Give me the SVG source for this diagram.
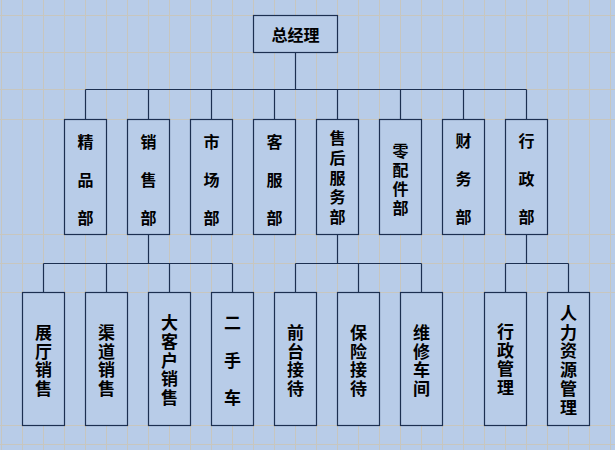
<svg xmlns="http://www.w3.org/2000/svg" width="615" height="450" viewBox="0 0 615 450">
<style>
.grid line{stroke:#C7C6BF;stroke-width:1}
.box{fill:#B8CCE8;stroke:#1C2F50;stroke-width:1.2}
.conn line,.conn path{stroke:#1C2F50;stroke-width:1.2;fill:none}
text{font-family:"Noto Sans CJK SC","Noto Sans CJK JP",sans-serif;font-weight:bold;fill:#000;text-anchor:middle;dominant-baseline:central}
.t2{font-size:16px}
.t3{font-size:17px}
</style>
<rect x="0" y="0" width="615" height="450" fill="#B8CCE8"/>
<g class="grid">
<line x1="0" y1="15.5" x2="615" y2="15.5"/>
<line x1="0" y1="52.5" x2="615" y2="52.5"/>
<line x1="0" y1="89.5" x2="615" y2="89.5"/>
<line x1="0" y1="119.5" x2="615" y2="119.5"/>
<line x1="0" y1="234.5" x2="615" y2="234.5"/>
<line x1="0" y1="263.5" x2="615" y2="263.5"/>
<line x1="0" y1="292.5" x2="615" y2="292.5"/>
<line x1="0" y1="425.5" x2="615" y2="425.5"/>
<line x1="0" y1="444.5" x2="615" y2="444.5"/>
<line x1="1.5" y1="0" x2="1.5" y2="450"/>
<line x1="22.5" y1="0" x2="22.5" y2="450"/>
<line x1="43.5" y1="0" x2="43.5" y2="450"/>
<line x1="64.5" y1="0" x2="64.5" y2="450"/>
<line x1="85.5" y1="0" x2="85.5" y2="450"/>
<line x1="106.5" y1="0" x2="106.5" y2="450"/>
<line x1="127.5" y1="0" x2="127.5" y2="450"/>
<line x1="148.5" y1="0" x2="148.5" y2="450"/>
<line x1="169.5" y1="0" x2="169.5" y2="450"/>
<line x1="190.5" y1="0" x2="190.5" y2="450"/>
<line x1="211.5" y1="0" x2="211.5" y2="450"/>
<line x1="232.5" y1="0" x2="232.5" y2="450"/>
<line x1="253.5" y1="0" x2="253.5" y2="450"/>
<line x1="274.5" y1="0" x2="274.5" y2="450"/>
<line x1="295.5" y1="0" x2="295.5" y2="450"/>
<line x1="316.5" y1="0" x2="316.5" y2="450"/>
<line x1="337.5" y1="0" x2="337.5" y2="450"/>
<line x1="358.5" y1="0" x2="358.5" y2="450"/>
<line x1="379.5" y1="0" x2="379.5" y2="450"/>
<line x1="400.5" y1="0" x2="400.5" y2="450"/>
<line x1="421.5" y1="0" x2="421.5" y2="450"/>
<line x1="442.5" y1="0" x2="442.5" y2="450"/>
<line x1="463.5" y1="0" x2="463.5" y2="450"/>
<line x1="484.5" y1="0" x2="484.5" y2="450"/>
<line x1="505.5" y1="0" x2="505.5" y2="450"/>
<line x1="526.5" y1="0" x2="526.5" y2="450"/>
<line x1="547.5" y1="0" x2="547.5" y2="450"/>
<line x1="568.5" y1="0" x2="568.5" y2="450"/>
<line x1="589.5" y1="0" x2="589.5" y2="450"/>
<line x1="610.5" y1="0" x2="610.5" y2="450"/>
</g>
<g class="conn" id="connectors">
<line x1="295.5" y1="52.5" x2="295.5" y2="89.5"/>
<line x1="85.5" y1="89.5" x2="526.5" y2="89.5"/>
<line x1="85.5" y1="89.5" x2="85.5" y2="119.5"/>
<line x1="148.5" y1="89.5" x2="148.5" y2="119.5"/>
<line x1="211.5" y1="89.5" x2="211.5" y2="119.5"/>
<line x1="274.5" y1="89.5" x2="274.5" y2="119.5"/>
<line x1="337.5" y1="89.5" x2="337.5" y2="119.5"/>
<line x1="400.5" y1="89.5" x2="400.5" y2="119.5"/>
<line x1="463.5" y1="89.5" x2="463.5" y2="119.5"/>
<line x1="526.5" y1="89.5" x2="526.5" y2="119.5"/>
<line x1="148.5" y1="234.5" x2="148.5" y2="263.5"/>
<line x1="43.5" y1="263.5" x2="232.5" y2="263.5"/>
<line x1="43.5" y1="263.5" x2="43.5" y2="292.5"/>
<line x1="106.5" y1="263.5" x2="106.5" y2="292.5"/>
<line x1="169.5" y1="263.5" x2="169.5" y2="292.5"/>
<line x1="232.5" y1="263.5" x2="232.5" y2="292.5"/>
<line x1="337.5" y1="234.5" x2="337.5" y2="263.5"/>
<line x1="295.5" y1="263.5" x2="421.5" y2="263.5"/>
<line x1="295.5" y1="263.5" x2="295.5" y2="292.5"/>
<line x1="358.5" y1="263.5" x2="358.5" y2="292.5"/>
<line x1="421.5" y1="263.5" x2="421.5" y2="292.5"/>
<line x1="526.5" y1="234.5" x2="526.5" y2="263.5"/>
<line x1="505.5" y1="263.5" x2="568.5" y2="263.5"/>
<line x1="505.5" y1="263.5" x2="505.5" y2="292.5"/>
<line x1="568.5" y1="263.5" x2="568.5" y2="292.5"/>
</g>
<g id="n-ceo"><rect class="box" x="253.5" y="15.5" width="84" height="37"/><text class="t2" x="295.5" y="33.5">总经理</text></g>
<g id="n-jingpin"><rect class="box" x="64.5" y="119.5" width="42" height="115"/><text class="t2" x="85.5" y="141">精</text><text class="t2" x="85.5" y="179">品</text><text class="t2" x="85.5" y="217">部</text></g>
<g id="n-xiaoshou"><rect class="box" x="127.5" y="119.5" width="42" height="115"/><text class="t2" x="148.5" y="141">销</text><text class="t2" x="148.5" y="179">售</text><text class="t2" x="148.5" y="217">部</text></g>
<g id="n-shichang"><rect class="box" x="190.5" y="119.5" width="42" height="115"/><text class="t2" x="211.5" y="141">市</text><text class="t2" x="211.5" y="179">场</text><text class="t2" x="211.5" y="217">部</text></g>
<g id="n-kefu"><rect class="box" x="253.5" y="119.5" width="42" height="115"/><text class="t2" x="274.5" y="141">客</text><text class="t2" x="274.5" y="179">服</text><text class="t2" x="274.5" y="217">部</text></g>
<g id="n-shouhou"><rect class="box" x="316.5" y="119.5" width="42" height="115"/><text class="t2" x="337.5" y="137">售</text><text class="t2" x="337.5" y="156.75">后</text><text class="t2" x="337.5" y="176.5">服</text><text class="t2" x="337.5" y="196.25">务</text><text class="t2" x="337.5" y="216">部</text></g>
<g id="n-lingpeijian"><rect class="box" x="379.5" y="119.5" width="42" height="115"/><text class="t2" x="400.5" y="149.5">零</text><text class="t2" x="400.5" y="168.5">配</text><text class="t2" x="400.5" y="187.5">件</text><text class="t2" x="400.5" y="206.5">部</text></g>
<g id="n-caiwu"><rect class="box" x="442.5" y="119.5" width="42" height="115"/><text class="t2" x="463.5" y="140">财</text><text class="t2" x="463.5" y="178">务</text><text class="t2" x="463.5" y="216">部</text></g>
<g id="n-xingzheng"><rect class="box" x="505.5" y="119.5" width="42" height="115"/><text class="t2" x="526.5" y="140">行</text><text class="t2" x="526.5" y="178">政</text><text class="t2" x="526.5" y="216">部</text></g>
<g id="n-zhanting"><rect class="box" x="22.5" y="292.5" width="42" height="133"/><text class="t3" x="43.5" y="331.5">展</text><text class="t3" x="43.5" y="350.2">厅</text><text class="t3" x="43.5" y="368.9">销</text><text class="t3" x="43.5" y="387.6">售</text></g>
<g id="n-qudao"><rect class="box" x="85.5" y="292.5" width="42" height="133"/><text class="t3" x="106.5" y="331.5">渠</text><text class="t3" x="106.5" y="350.2">道</text><text class="t3" x="106.5" y="368.9">销</text><text class="t3" x="106.5" y="387.6">售</text></g>
<g id="n-dakehu"><rect class="box" x="148.5" y="292.5" width="42" height="133"/><text class="t3" x="169.5" y="321.7">大</text><text class="t3" x="169.5" y="340.4">客</text><text class="t3" x="169.5" y="359.1">户</text><text class="t3" x="169.5" y="377.8">销</text><text class="t3" x="169.5" y="396.5">售</text></g>
<g id="n-ershouche"><rect class="box" x="211.5" y="292.5" width="42" height="133"/><text class="t3" x="232.5" y="321.7">二</text><text class="t3" x="232.5" y="359.1">手</text><text class="t3" x="232.5" y="396.5">车</text></g>
<g id="n-qiantai"><rect class="box" x="274.5" y="292.5" width="42" height="133"/><text class="t3" x="295.5" y="331.5">前</text><text class="t3" x="295.5" y="350.2">台</text><text class="t3" x="295.5" y="368.9">接</text><text class="t3" x="295.5" y="387.6">待</text></g>
<g id="n-baoxian"><rect class="box" x="337.5" y="292.5" width="42" height="133"/><text class="t3" x="358.5" y="331.5">保</text><text class="t3" x="358.5" y="350.2">险</text><text class="t3" x="358.5" y="368.9">接</text><text class="t3" x="358.5" y="387.6">待</text></g>
<g id="n-weixiu"><rect class="box" x="400.5" y="292.5" width="42" height="133"/><text class="t3" x="421.5" y="331.5">维</text><text class="t3" x="421.5" y="350.2">修</text><text class="t3" x="421.5" y="368.9">车</text><text class="t3" x="421.5" y="387.6">间</text></g>
<g id="n-xingzhengguanli"><rect class="box" x="484.5" y="292.5" width="42" height="133"/><text class="t3" x="505.5" y="330.5">行</text><text class="t3" x="505.5" y="349.2">政</text><text class="t3" x="505.5" y="367.9">管</text><text class="t3" x="505.5" y="386.6">理</text></g>
<g id="n-renli"><rect class="box" x="547.5" y="292.5" width="42" height="133"/><text class="t3" x="568.5" y="312.5">人</text><text class="t3" x="568.5" y="331.2">力</text><text class="t3" x="568.5" y="349.9">资</text><text class="t3" x="568.5" y="368.6">源</text><text class="t3" x="568.5" y="387.3">管</text><text class="t3" x="568.5" y="406">理</text></g>
</svg>
